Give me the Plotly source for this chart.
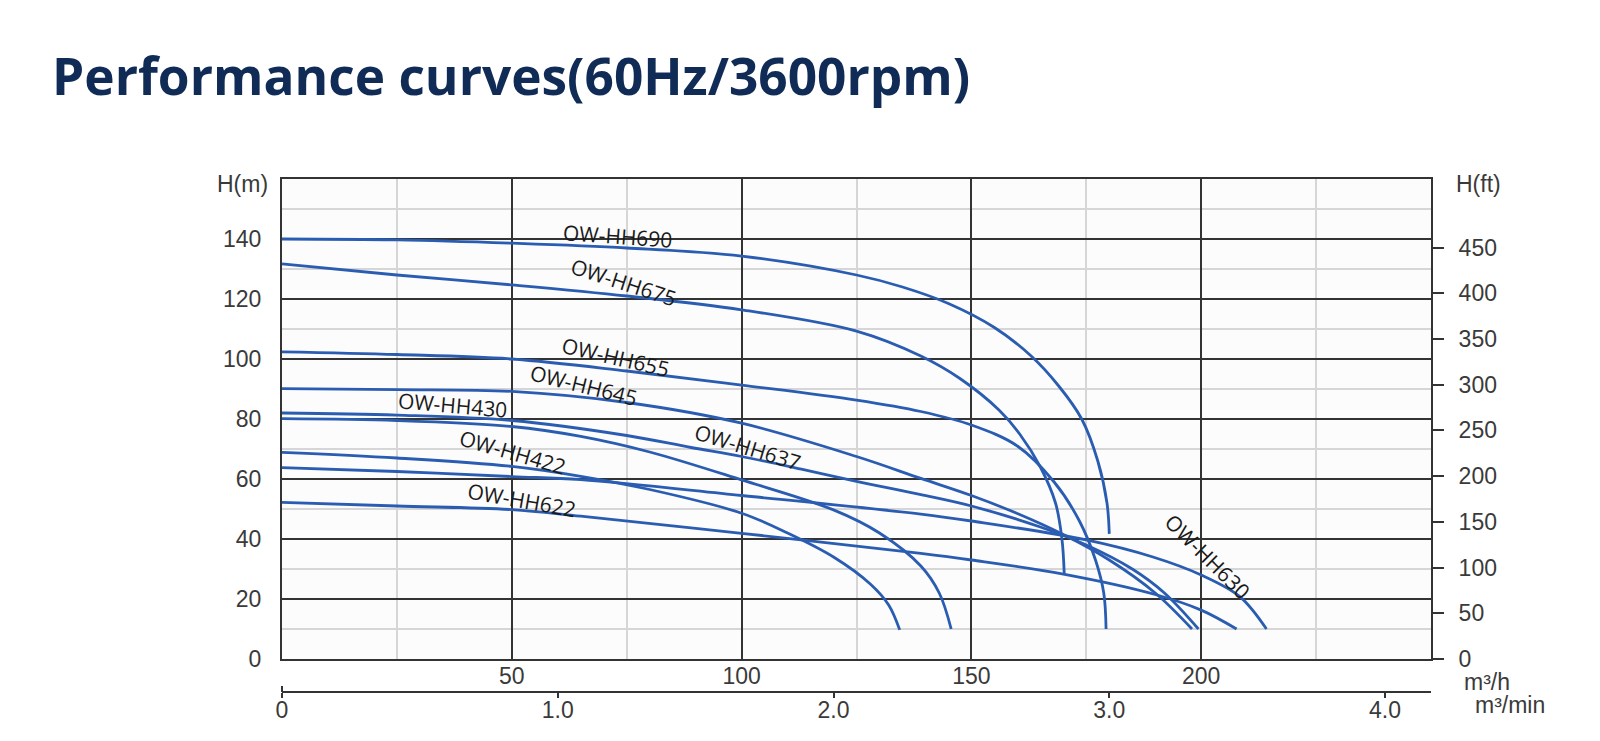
import plotly.graph_objects as go

# ---------------- data (flow Q in m3/h, head H in m) ----------------
models = ["OW-HH690", "OW-HH675", "OW-HH655", "OW-HH645", "OW-HH430",
          "OW-HH637", "OW-HH422", "OW-HH630", "OW-HH622"]

q_hh690 = [0, 25, 50, 75, 100, 125, 135, 145, 155, 163, 169, 174, 177.5, 179.5, 180]
h_hh690 = [140, 139.7, 138.6, 137, 134.3, 128, 124, 118.5, 110.5, 101, 91, 80, 66, 52, 41.7]

q_hh675 = [0, 25, 50, 75, 100, 125, 139, 147.5, 156, 160.5, 165, 168.3, 169.7, 170.2]
h_hh675 = [131.7, 128, 124.7, 121, 116.4, 109.3, 101, 93.5, 83, 75, 64, 52, 40, 28.3]

q_hh655 = [0, 25, 50, 75, 100, 125, 139, 150, 160, 168, 173.5, 177, 178.8, 179.3]
h_hh655 = [102.4, 101.5, 100, 96, 91.3, 86.3, 82.5, 78, 71, 59, 46, 33, 22, 10]

q_hh645 = [0, 25, 50, 75, 100, 125, 139, 150, 160, 170, 180, 190, 198]
h_hh645 = [90.1, 89.8, 89.2, 85.5, 78.6, 67.5, 60.2, 54.5, 48.5, 41.5, 33, 22, 10]

q_hh430 = [0, 25, 50, 65, 80, 100, 120, 130, 139, 143, 145.6]
h_hh430 = [80.1, 79.5, 77.5, 74.2, 69, 59.7, 49.7, 42, 31, 22, 10]

q_hh637 = [0, 25, 50, 75, 89, 100, 113, 125, 139, 150, 165, 175, 185, 192, 199.4]
h_hh637 = [82, 81.3, 79.5, 74.5, 70.5, 67.5, 63.3, 59.2, 54.8, 51, 44, 38, 30, 22, 10]

q_hh422 = [0, 25, 50, 65, 80, 100, 110, 120, 128, 132, 134.4]
h_hh422 = [68.9, 67, 64.2, 60.9, 56.5, 48.6, 42, 34, 25, 18, 9.7]

q_hh630 = [0, 25, 50, 65, 100, 139, 150, 175, 189.5, 200, 208.4, 214.2]
h_hh630 = [63.8, 62.5, 60.8, 59.8, 54.5, 48.3, 46, 39.7, 34, 28, 20.8, 10]

q_hh622 = [0, 25, 50, 65, 100, 139, 150, 170, 190, 200, 207.7]
h_hh622 = [52.2, 51, 49.8, 47.6, 41.9, 35.2, 33, 28.3, 21.5, 16.3, 10]

curves = {
    "OW-HH690": (q_hh690, h_hh690),
    "OW-HH675": (q_hh675, h_hh675),
    "OW-HH655": (q_hh655, h_hh655),
    "OW-HH645": (q_hh645, h_hh645),
    "OW-HH430": (q_hh430, h_hh430),
    "OW-HH637": (q_hh637, h_hh637),
    "OW-HH422": (q_hh422, h_hh422),
    "OW-HH630": (q_hh630, h_hh630),
    "OW-HH622": (q_hh622, h_hh622),
}

x_ticks_m3h = [50, 100, 150, 200]
y_ticks_m = [0, 20, 40, 60, 80, 100, 120, 140]
y_ticks_ft = [0, 50, 100, 150, 200, 250, 300, 350, 400, 450]
x_ticks_m3min = [0, 1, 2, 3, 4]
x_ticklabels_m3min = ["0", "1.0", "2.0", "3.0", "4.0"]

Q_MAX = 250
H_MAX = 160
FT_PER_M = 1 / 0.3048

# ---------------- layout helpers ----------------
W, H = 1600, 741
PX_L, PX_R, PX_T, PX_B = 282, 1431, 179, 692
PX_PLOT_BOTTOM = 659


def px_x(px):
    return (px - PX_L) / (PX_R - PX_L)


def px_y(py):
    return (PX_B - py) / (PX_B - PX_T)


BLUE = "#2a5db2"
DARK = "#333333"
LIGHT = "#d6d6d6"
TXT = "#3a3a3a"
AXFONT = dict(family="Liberation Sans, Arial, sans-serif", size=23, color=TXT)

fig = go.Figure()

for name in models:
    q, h = curves[name]
    fig.add_trace(go.Scatter(
        x=q, y=h, mode="lines", name=name,
        line=dict(color=BLUE, width=2.8, shape="spline", smoothing=1.0),
        showlegend=False, hoverinfo="skip"))

# dummy traces to activate secondary axes
fig.add_trace(go.Scatter(x=[0], y=[0], xaxis="x2", yaxis="y",
                         mode="markers", marker=dict(opacity=0),
                         showlegend=False, hoverinfo="skip"))
fig.add_trace(go.Scatter(x=[0], y=[0], xaxis="x", yaxis="y2",
                         mode="markers", marker=dict(opacity=0),
                         showlegend=False, hoverinfo="skip"))

y_dom = [px_y(PX_PLOT_BOTTOM), 1]

fig.update_layout(
    width=W, height=H,
    margin=dict(l=PX_L, r=W - PX_R, t=PX_T, b=H - PX_B, pad=0),
    paper_bgcolor="white",
    plot_bgcolor="#fcfcfc",
    xaxis=dict(
        range=[0, Q_MAX], tickvals=x_ticks_m3h,
        showgrid=True, gridcolor=DARK, gridwidth=2,
        minor=dict(dtick=25, tick0=0, showgrid=True, gridcolor=LIGHT, gridwidth=1.5),
        showline=True, linecolor=DARK, linewidth=2, mirror=True,
        ticks="", ticklabelstandoff=-5,
        tickfont=AXFONT, zeroline=False, anchor="y",
    ),
    yaxis=dict(
        domain=y_dom, range=[0, H_MAX], tickvals=y_ticks_m,
        showgrid=True, gridcolor=DARK, gridwidth=2,
        minor=dict(dtick=10, tick0=0, showgrid=True, gridcolor=LIGHT, gridwidth=1.5),
        showline=True, linecolor=DARK, linewidth=2, mirror=True,
        ticks="outside", ticklen=14, tickcolor="rgba(0,0,0,0)",
        tickfont=AXFONT, zeroline=False,
    ),
    xaxis2=dict(
        range=[0, Q_MAX / 60], overlaying="x", anchor="free", position=0,
        side="bottom", tickvals=x_ticks_m3min, ticktext=x_ticklabels_m3min,
        showgrid=False, showline=True, linecolor=DARK, linewidth=2,
        ticks="outside", ticklen=5, tickwidth=2, tickcolor=DARK,
        ticklabelstandoff=-8,
        tickfont=AXFONT, zeroline=False,
    ),
    yaxis2=dict(
        range=[0, H_MAX * FT_PER_M], overlaying="y", side="right",
        tickvals=y_ticks_ft, showgrid=False, showline=False,
        ticks="outside", ticklen=12, tickwidth=2, tickcolor=DARK,
        ticklabelstandoff=10,
        tickfont=AXFONT, zeroline=False,
    ),
    title=dict(
        text="<b>Performance curves(60Hz/3600rpm)</b>",
        font=dict(family="Open Sans, Noto Sans, sans-serif", size=51.4, color="#0f2b56"),
        x=52 / W, xanchor="left", xref="container",
        y=1 - 77 / H, yanchor="middle", yref="container",
    ),
)

# left-end upward tick of the m3/min axis
fig.add_shape(type="line", xref="paper", yref="paper",
              x0=0, x1=0, y0=0, y1=px_y(PX_B - 6),
              line=dict(color=DARK, width=2))

annotations = []
# axis titles / units
for txt, cx, cy in [("H(m)", 242, 184), ("H(ft)", 1478, 184),
                    ("m³/h", 1487, 682), ("m³/min", 1510, 705)]:
    annotations.append(dict(text=txt, x=px_x(cx), y=px_y(cy), xref="paper", yref="paper",
                            xanchor="center", yanchor="middle", showarrow=False,
                            font=AXFONT))

# curve labels (positions in data coordinates, angle in degrees)
label_pos = {
    "OW-HH690": (73.1, 141.0, 4),
    "OW-HH675": (74.2, 125.7, 18),
    "OW-HH655": (72.5, 100.7, 13),
    "OW-HH645": (65.5, 91.3, 14),
    "OW-HH430": (37.2, 84.7, 5),
    "OW-HH637": (101.2, 70.7, 17),
    "OW-HH422": (50.1, 69.0, 16),
    "OW-HH622": (52.2, 53.0, 10),
    "OW-HH630": (201.3, 34.3, 45),
}
for name in models:
    qx, hy, ang = label_pos[name]
    annotations.append(dict(text=name, x=qx, y=hy, xref="x", yref="y",
                            xanchor="center", yanchor="middle", showarrow=False,
                            textangle=ang,
                            font=dict(family="Open Sans, Noto Sans, sans-serif",
                                      size=21, color="#1a1a1a")))

fig.update_layout(annotations=annotations)

fig.write_html("out.html")
